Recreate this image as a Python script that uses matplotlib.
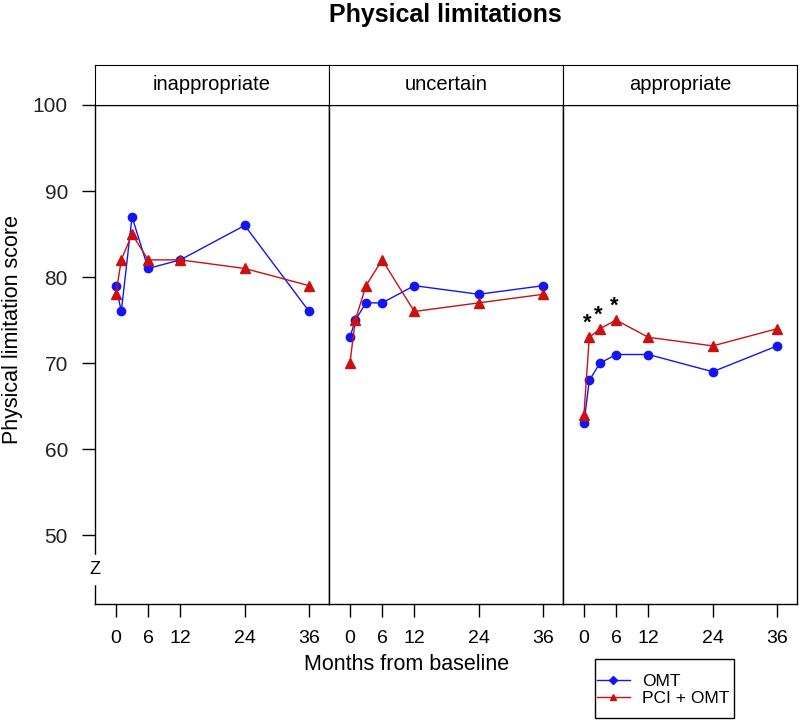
import numpy as np
import matplotlib
matplotlib.use("Agg")
from matplotlib import pyplot as plt
from matplotlib.patches import Rectangle

plt.rcParams['font.family'] = ['Liberation Sans', 'DejaVu Sans']
narrow = ['Liberation Sans Narrow', 'Liberation Sans', 'DejaVu Sans']

months = [0, 1, 3, 6, 12, 24, 36]
panels = ["inappropriate", "uncertain", "appropriate"]

omt = [[79, 76, 87, 81, 82, 86, 76],
       [73, 75, 77, 77, 79, 78, 79],
       [63, 68, 70, 71, 71, 69, 72]]
pci = [[78, 82, 85, 82, 82, 81, 79],
       [70, 75, 79, 82, 76, 77, 78],
       [64, 73, 74, 75, 73, 72, 74]]

# significance stars (panel index, month index)
stars = [(2, 1), (2, 2), (2, 3)]

xticks = [0, 6, 12, 24, 36]
yticks = [50, 60, 70, 80, 90, 100]

blue = "#1414f5"
red = "#cc1010"

fig = plt.figure(figsize=(8, 7.2), dpi=100)

left, right = 95 / 800, 797 / 800
bot, top, striptop = 1 - 604 / 720, 1 - 105 / 720, 1 - 65 / 720
w = (right - left) / 3

for i, name in enumerate(panels):
    ax = fig.add_axes([left + i * w, bot, w, top - bot])
    ax.plot(months, omt[i], color=blue, marker="o", markersize=6, lw=1)
    ax.plot(months, pci[i], color=red, marker="^", markersize=7, lw=1)
    for p, m in stars:
        if p == i:
            ax.text(months[m] - 0.3, pci[i][m] + 0.4, "*", ha="center", va="bottom",
                    fontsize=16, fontweight="bold", color="black")
    ax.set_xlim(-3.9, 39.7)
    ax.set_ylim(42, 100)
    ax.set_xticks(xticks)
    ax.set_xticklabels([str(t) for t in xticks], fontsize=14, family=narrow)
    ax.tick_params(axis="x", length=9.5, width=1, pad=9)
    for s in ax.spines.values():
        s.set_linewidth(1)
    if i == 0:
        ax.set_yticks(yticks)
        ax.set_yticklabels([str(t) for t in yticks], fontsize=15, family=narrow,
                           color="#222222")
        ax.tick_params(axis="y", length=9.5, width=1, pad=10)
        ax.text(-3.9, 46, "Z", ha="center", va="center", fontsize=13,
                backgroundcolor="white")
    else:
        ax.set_yticks([])
    sax = fig.add_axes([left + i * w, top, w, striptop - top])
    sax.set_xticks([])
    sax.set_yticks([])
    sax.text(0.5, 0.5, name, ha="center", va="center", fontsize=14.5,
             transform=sax.transAxes)

fig.text(13 / 800, 1 - 330 / 720, "Physical limitation score", rotation=90,
         ha="center", va="center", fontsize=15.5)
fig.text(407 / 800, 1 - 665 / 720, "Months from baseline",
         ha="center", va="center", fontsize=15.5)
fig.text(445 / 800, 1 - 15 / 720, "Physical limitations", ha="center", va="center",
         fontsize=18, fontweight="bold")

handles = [plt.Line2D([], [], color=blue, marker="D", markersize=4, lw=1),
           plt.Line2D([], [], color=red, marker="^", markersize=5, lw=1)]
fig.legend(handles, ["OMT", "PCI + OMT"], loc="center left",
           bbox_to_anchor=(597 / 800, 1 - 690 / 720), fontsize=12.5,
           frameon=False, handlelength=1.9, handletextpad=0.7,
           borderpad=0, borderaxespad=0, labelspacing=0.1)
fig.patches.append(Rectangle((595 / 800, 1 - 718 / 720), 139 / 800, 59 / 720,
                             transform=fig.transFigure, fill=False,
                             edgecolor="black", lw=1))

fig.savefig("out.png", dpi=100)
